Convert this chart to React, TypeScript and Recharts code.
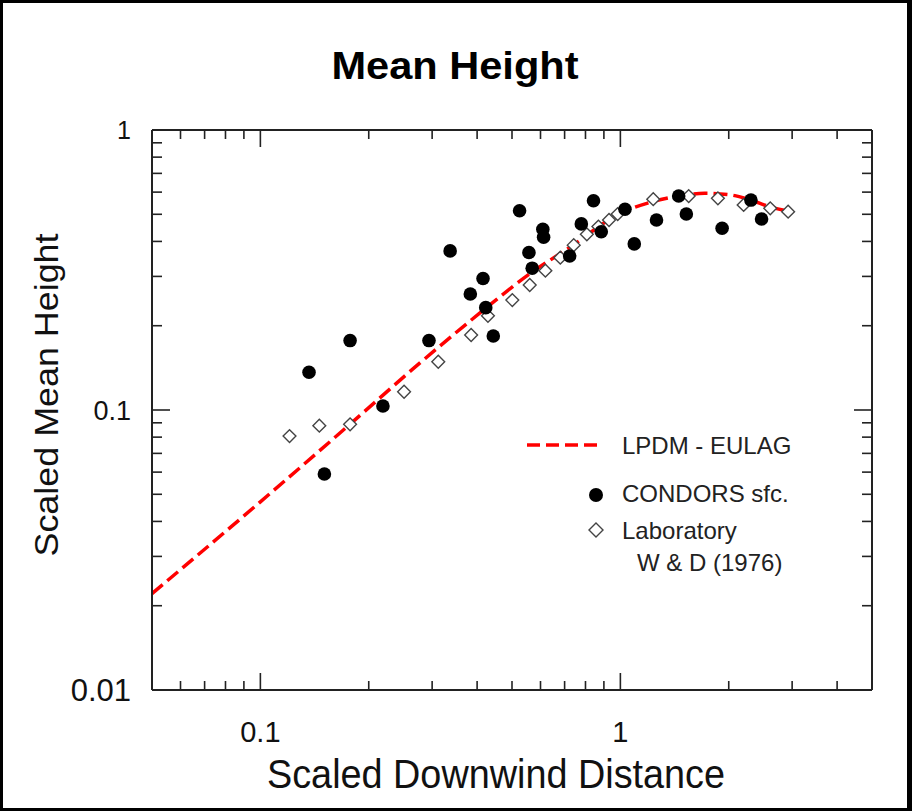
import React from 'react';
import { ComposedChart, Line, Scatter, XAxis, YAxis, Legend } from 'recharts';

// LPDM - EULAG model curve
const MODEL_X = [0.05, 0.1, 0.1775, 0.277, 0.423, 0.557, 0.733, 0.987, 1.218, 1.446, 1.714, 2.026, 2.3, 2.61, 2.97];
const MODEL_Y = [0.0221, 0.047, 0.089, 0.147, 0.231, 0.305, 0.385, 0.5, 0.553, 0.581, 0.594, 0.586, 0.562, 0.531, 0.511];

// CONDORS surface release (filled circles)
const CONDORS_X = [0.1365, 0.1506, 0.1775, 0.219, 0.294, 0.3366, 0.383, 0.4154, 0.4227, 0.4436, 0.5248, 0.5572, 0.569, 0.609, 0.612, 0.723, 0.779, 0.842, 0.885, 1.03, 1.093, 1.26, 1.452, 1.525, 1.917, 2.305, 2.467];
const CONDORS_Y = [0.1364, 0.0591, 0.177, 0.1033, 0.177, 0.37, 0.2597, 0.295, 0.232, 0.1837, 0.515, 0.365, 0.321, 0.442, 0.414, 0.355, 0.462, 0.559, 0.433, 0.521, 0.392, 0.477, 0.581, 0.501, 0.446, 0.562, 0.481];

// Laboratory, Willis & Deardorff 1976 (open diamonds)
const LAB_X = [0.1205, 0.1458, 0.1775, 0.2507, 0.312, 0.385, 0.4287, 0.501, 0.56, 0.619, 0.681, 0.742, 0.807, 0.869, 0.93, 0.983, 1.234, 1.548, 1.866, 2.2, 2.608, 2.924];
const LAB_Y = [0.0807, 0.0879, 0.0889, 0.1162, 0.1487, 0.1853, 0.217, 0.247, 0.2795, 0.3145, 0.35, 0.388, 0.424, 0.452, 0.477, 0.501, 0.566, 0.581, 0.57, 0.54, 0.525, 0.511];

const X_TICKS = [0.06, 0.07, 0.08, 0.09, 0.1, 0.2, 0.3, 0.4, 0.5, 0.6, 0.7, 0.8, 0.9, 1, 2, 3, 4];
const X_LABELS = [0.1, 1];
const Y_TICKS = [0.01, 0.02, 0.03, 0.04, 0.05, 0.06, 0.07, 0.08, 0.09, 0.1, 0.2, 0.3, 0.4, 0.5, 0.6, 0.7, 0.8, 0.9, 1];
const Y_LABELS = [0.01, 0.1, 1];

const SERIES_NAMES = ['LPDM - EULAG', 'CONDORS sfc.', 'Laboratory', 'W & D (1976)'];

const modelData = MODEL_X.map((x, i) => ({ x, y: MODEL_Y[i] }));
const condorsData = CONDORS_X.map((x, i) => ({ x, y: CONDORS_Y[i] }));
const labData = LAB_X.map((x, i) => ({ x, y: LAB_Y[i] }));

const FONT = '"Liberation Sans", Arial, Helvetica, sans-serif';
const FRAME = '#222';
const MAJOR = 17;
const MINOR = 9;
const Y_LABEL_SIZE: Record<string, number> = { '1': 25, '0.1': 27, '0.01': 31 };

const isMajor = (v: number) => Math.abs(Math.log10(v) - Math.round(Math.log10(v))) < 1e-6;

const BottomTick = (props: any) => {
  const { x, y, payload } = props;
  const v = payload.value;
  return (
    <g>
      <line x1={x} x2={x} y1={y} y2={y - (isMajor(v) ? MAJOR : MINOR)} stroke={FRAME} strokeWidth={1.6} />
      {X_LABELS.includes(v) && (
        <text x={x} y={y + 52} textAnchor="middle" fontSize={29} fontFamily={FONT} fill="#111">
          {String(v)}
        </text>
      )}
    </g>
  );
};

const TopTick = (props: any) => {
  const { x, y, payload } = props;
  return <line x1={x} x2={x} y1={y} y2={y + (isMajor(payload.value) ? MAJOR : MINOR)} stroke={FRAME} strokeWidth={1.6} />;
};

const LeftTick = (props: any) => {
  const { x, y, payload } = props;
  const v = payload.value;
  const fs = Y_LABEL_SIZE[String(v)] || 26;
  return (
    <g>
      <line x1={x} x2={x + (isMajor(v) ? MAJOR + 1 : MINOR + 1)} y1={y} y2={y} stroke={FRAME} strokeWidth={1.6} />
      {Y_LABELS.includes(v) && (
        <text x={x - 21} y={y} dy="0.36em" textAnchor="end" fontSize={fs} fontFamily={FONT} fill="#111">
          {String(v)}
        </text>
      )}
    </g>
  );
};

const RightTick = (props: any) => {
  const { x, y, payload } = props;
  return <line x1={x} x2={x - (isMajor(payload.value) ? MAJOR + 1 : MINOR + 1)} y1={y} y2={y} stroke={FRAME} strokeWidth={1.6} />;
};

const Dot = (props: any) => <circle cx={props.cx} cy={props.cy} r={6.8} fill="#000" />;

const Diamond = (props: any) => {
  const { cx, cy } = props;
  const s = 6.4;
  return (
    <polygon
      points={`${cx},${cy - s} ${cx + s},${cy} ${cx},${cy + s} ${cx - s},${cy}`}
      fill="#fff"
      stroke="#444"
      strokeWidth={1.4}
    />
  );
};

const renderLegend = () => (
  <svg width={300} height={160} style={{ display: 'block', fontFamily: FONT }}>
    <line x1={7} x2={77} y1={20} y2={20} stroke="#f00" strokeWidth={3.5} strokeDasharray="13 6" />
    <text x={102} y={20} dy="0.36em" fontSize={24} fill="#222">{SERIES_NAMES[0]}</text>
    <circle cx={76} cy={70} r={7} fill="#000" />
    <text x={102} y={68} dy="0.36em" fontSize={24} fill="#222">{SERIES_NAMES[1]}</text>
    <polygon points="76,98 83,105 76,112 69,105" fill="#fff" stroke="#444" strokeWidth={1.4} />
    <text x={102} y={105} dy="0.36em" fontSize={24} fill="#222">{SERIES_NAMES[2]}</text>
    <text x={117} y={137} dy="0.36em" fontSize={24} fill="#222">{SERIES_NAMES[3]}</text>
  </svg>
);

export default function App() {
  return (
    <div style={{ position: 'absolute', left: 0, top: 0, width: 912, height: 811, background: '#fff' }}>
      <ComposedChart width={912} height={811} margin={{ top: 129, right: 39, bottom: 120, left: 151 }}>
        <XAxis
          xAxisId="bottom"
          dataKey="x"
          type="number"
          scale="log"
          domain={[0.05, 5]}
          allowDataOverflow
          ticks={X_TICKS}
          interval={0}
          height={1}
          tickSize={0}
          tickMargin={0}
          tickLine={false}
          tick={<BottomTick />}
          axisLine={{ stroke: FRAME, strokeWidth: 2 }}
        />
        <XAxis
          xAxisId="top"
          orientation="top"
          dataKey="x"
          type="number"
          scale="log"
          domain={[0.05, 5]}
          allowDataOverflow
          ticks={X_TICKS}
          interval={0}
          height={1}
          tickSize={0}
          tickMargin={0}
          tickLine={false}
          tick={<TopTick />}
          axisLine={{ stroke: FRAME, strokeWidth: 2 }}
        />
        <YAxis
          yAxisId="left"
          dataKey="y"
          type="number"
          scale="log"
          domain={[0.01, 1]}
          allowDataOverflow
          ticks={Y_TICKS}
          interval={0}
          width={1}
          tickSize={0}
          tickMargin={0}
          tickLine={false}
          tick={<LeftTick />}
          axisLine={{ stroke: FRAME, strokeWidth: 2 }}
        />
        <YAxis
          yAxisId="right"
          orientation="right"
          dataKey="y"
          type="number"
          scale="log"
          domain={[0.01, 1]}
          allowDataOverflow
          ticks={Y_TICKS}
          interval={0}
          width={1}
          tickSize={0}
          tickMargin={0}
          tickLine={false}
          tick={<RightTick />}
          axisLine={{ stroke: FRAME, strokeWidth: 2 }}
        />
        <Line
          data={modelData}
          xAxisId="bottom"
          yAxisId="left"
          dataKey="y"
          type="monotone"
          stroke="#f00"
          strokeWidth={3.5}
          strokeDasharray="14 6"
          dot={false}
          isAnimationActive={false}
          name={SERIES_NAMES[0]}
        />
        <Scatter
          data={labData}
          xAxisId="bottom"
          yAxisId="left"
          dataKey="y"
          shape={<Diamond />}
          isAnimationActive={false}
          name={SERIES_NAMES[2]}
        />
        <Scatter
          data={condorsData}
          xAxisId="bottom"
          yAxisId="left"
          dataKey="y"
          shape={<Dot />}
          isAnimationActive={false}
          name={SERIES_NAMES[1]}
        />
        <Legend
          layout="vertical"
          align="center"
          verticalAlign="middle"
          content={renderLegend}
          wrapperStyle={{ left: 520, top: 425, width: 300, height: 160 }}
        />
        <text x={455} y={79} textAnchor="middle" fontSize={38} fontWeight="bold" fontFamily={FONT} fill="#000" textLength={247} lengthAdjust="spacingAndGlyphs">
          Mean Height
        </text>
        <text x={496} y={788} textAnchor="middle" fontSize={41} fontFamily={FONT} fill="#111" textLength={458} lengthAdjust="spacingAndGlyphs">
          Scaled Downwind Distance
        </text>
        <text transform="translate(58,395) rotate(-90)" textAnchor="middle" fontSize={33} fontFamily={FONT} fill="#111" textLength={323} lengthAdjust="spacingAndGlyphs">
          Scaled Mean Height
        </text>
      </ComposedChart>
      <div style={{ position: 'absolute', left: 0, top: 0, width: 912, height: 811, boxSizing: 'border-box', border: '3px solid #000', borderRightWidth: 5, pointerEvents: 'none' }} />
    </div>
  );
}
